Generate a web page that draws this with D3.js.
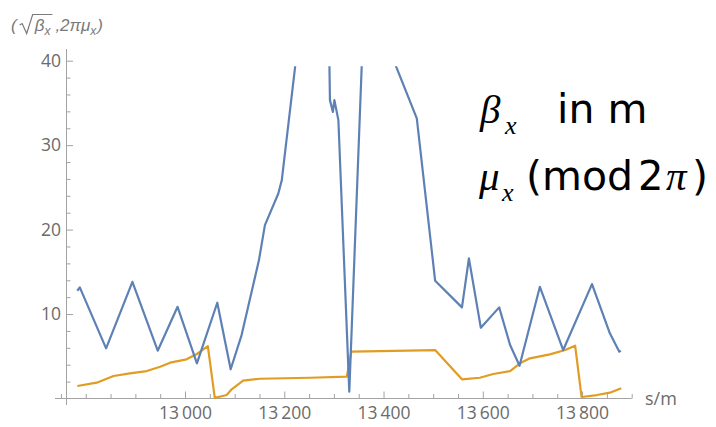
<!DOCTYPE html>
<html>
<head>
<meta charset="utf-8">
<script src="https://cdn.jsdelivr.net/npm/d3@7"></script>
<style>
  body { margin: 0; background: #fff; }
</style>
</head>
<body>
<div id="chart"></div>
<script>
// positions along the ring (s in m) and values
var sBeta = [12783, 12788, 12841, 12894, 12945, 12985, 13024, 13065, 13092, 13114,
             13149, 13161, 13188, 13195, 13222, 13240, 13262, 13284, 13291, 13292,
             13298, 13301, 13309, 13331, 13356, 13366, 13390, 13425, 13467, 13504,
             13558, 13572, 13596, 13633, 13655, 13674, 13715, 13762, 13820, 13856,
             13875, 13878];
var beta  = [12.76, 13.16, 5.94, 13.82, 5.66, 10.86, 4.17, 11.34, 3.46, 7.51,
             16.39, 20.53, 24.28, 25.86, 39.35, 48, 55, 52, 39.35, 35.33,
             33.94, 35.33, 32.96, 0.8, 39.35, 52, 46, 39.35, 33.16, 13.94,
             10.79, 16.59, 8.38, 10.79, 6.33, 3.88, 13.23, 5.74, 13.55, 7.72,
             5.54, 5.66];

var sMu = [12783, 12822, 12856, 12889, 12923, 12950, 12970, 13003, 13024, 13046,
           13060, 13084, 13094, 13117, 13151, 13252, 13326, 13335, 13393, 13504,
           13558, 13594, 13621, 13655, 13675, 13695, 13735, 13766, 13786, 13799,
           13830, 13856, 13879];
var mu  = [1.48, 1.87, 2.66, 2.98, 3.25, 3.76, 4.24, 4.64, 5.27, 6.21,
           0.08, 0.41, 1.09, 2.11, 2.34, 2.46, 2.58, 5.54, 5.62, 5.74,
           2.27, 2.46, 2.90, 3.25, 4.17, 4.76, 5.23, 5.74, 6.25, 0.18,
           0.41, 0.69, 1.21];

var xMajor = [13000, 13200, 13400, 13600, 13800];
var yMajor = [10, 20, 30, 40];

var W = 716, H = 427;
var svg = d3.select('#chart').append('svg')
    .attr('width', W).attr('height', H);

var x = d3.scaleLinear().domain([12760.2, 13900]).range([66, 631.7]);
var y = d3.scaleLinear().domain([0, 40]).range([398.5, 60.7]);

var axisCol = '#a3a3a3', labCol = '#6b6b6b';
var tickFont = '"Open Sans", sans-serif';

// clip the curves at the top of the plot range
svg.append('clipPath').attr('id', 'clip')
  .append('rect').attr('x', 0).attr('y', y(39.35)).attr('width', W).attr('height', H);

// x axis ticks
var xMinor = d3.range(12750, 13901, 50).filter(d => xMajor.indexOf(d) < 0);
svg.append('g')
    .attr('transform', 'translate(0,' + y(0) + ')')
    .call(d3.axisBottom(x).tickValues(xMinor).tickSize(-4.5).tickFormat(''))
    .call(g => g.select('.domain').remove())
    .call(g => g.selectAll('line').attr('stroke', axisCol));

svg.append('g')
    .attr('transform', 'translate(0,' + y(0) + ')')
    .call(d3.axisBottom(x).tickValues(xMajor).tickSize(-7).tickPadding(8)
      .tickFormat(d => String(d).slice(0, 2) + '\u2009' + String(d).slice(2)))
    .call(g => g.select('.domain').remove())
    .call(g => g.selectAll('line').attr('stroke', axisCol))
    .call(g => g.selectAll('text').attr('fill', labCol)
      .style('font-family', tickFont).style('font-size', '17.5px'));

// y axis ticks
var yMinor = d3.range(2, 41, 2).filter(d => yMajor.indexOf(d) < 0);
svg.append('g')
    .attr('transform', 'translate(66,0)')
    .call(d3.axisLeft(y).tickValues(yMinor).tickSize(-4.5).tickFormat(''))
    .call(g => g.select('.domain').remove())
    .call(g => g.selectAll('line').attr('stroke', axisCol));

svg.append('g')
    .attr('transform', 'translate(66,0)')
    .call(d3.axisLeft(y).tickValues(yMajor).tickSize(-7).tickPadding(5))
    .call(g => g.select('.domain').remove())
    .call(g => g.selectAll('line').attr('stroke', axisCol))
    .call(g => g.selectAll('text').attr('fill', labCol)
      .style('font-family', tickFont).style('font-size', '17.5px'));

// axis lines
svg.append('line')
    .attr('x1', 55).attr('x2', x(13900))
    .attr('y1', y(0)).attr('y2', y(0))
    .attr('stroke', axisCol);
svg.append('line')
    .attr('x1', 66.5).attr('x2', 66.5)
    .attr('y1', 49).attr('y2', 405)
    .attr('stroke', axisCol);

svg.append('text')
    .attr('x', 645).attr('y', 405)
    .attr('fill', labCol)
    .style('font-family', tickFont).style('font-size', '18px')
    .text('s/m');

// curves
var line = d3.line().x(d => x(d[0])).y(d => y(d[1]));
var plot = svg.append('g').attr('clip-path', 'url(#clip)');

plot.append('path')
    .datum(d3.zip(sMu, mu))
    .attr('d', line)
    .attr('fill', 'none')
    .attr('stroke', '#e19c24')
    .attr('stroke-width', 2.2)
    .attr('stroke-linejoin', 'round');

plot.append('path')
    .datum(d3.zip(sBeta, beta))
    .attr('d', line)
    .attr('fill', 'none')
    .attr('stroke', '#5e81b5')
    .attr('stroke-width', 2.2)
    .attr('stroke-linejoin', 'round');

// axis label at the top: ( sqrt(beta_x) ,2 pi mu_x )
var lab = svg.append('g')
    .attr('fill', '#7a7a7a')
    .style('font-family', '"Liberation Sans", sans-serif')
    .style('font-style', 'italic');
var cx = 11, base = 31;
function piece(t, size, dy) {
  var el = lab.append('text').attr('x', cx).attr('y', base + (dy || 0))
      .style('font-size', size + 'px').text(t);
  cx += el.node().getComputedTextLength();
}
piece('(', 17);
cx += 3;
var r0 = cx;
var rad = lab.append('path')
    .attr('fill', 'none').attr('stroke', '#7a7a7a').attr('stroke-width', 1.2);
cx += 15;
piece('\u03b2', 17);
piece('x', 12, 4);
cx += 2;
rad.attr('d', 'M' + r0 + ',' + (base - 6) + ' l2.5,-1.5 l4.5,10 l6,-19 H' + cx);
cx += 3;
piece(',2\u03c0\u03bc', 17);
piece('x', 12, 4);
cx += 1;
piece(')', 17);

// annotation on the right
var ann = svg.append('g').attr('fill', '#000');
var greek = '"Liberation Serif", serif';
var sans = '"DejaVu Sans", sans-serif';
ann.append('text').attr('x', 480).attr('y', 123)
    .style('font-family', greek).style('font-style', 'italic').style('font-size', '41px')
    .text('\u03b2');
ann.append('text').attr('x', 505).attr('y', 134)
    .style('font-family', greek).style('font-style', 'italic').style('font-size', '26px')
    .text('x');
ann.append('text').attr('x', 557).attr('y', 123)
    .style('font-family', sans).style('font-size', '41px')
    .text('in m');
ann.append('text').attr('x', 479).attr('y', 190)
    .style('font-family', greek).style('font-style', 'italic').style('font-size', '41px')
    .text('\u03bc');
ann.append('text').attr('x', 502).attr('y', 201)
    .style('font-family', greek).style('font-style', 'italic').style('font-size', '26px')
    .text('x');
ann.append('text').attr('x', 526).attr('y', 190)
    .style('font-family', sans).style('font-size', '41px')
    .text('(mod');
ann.append('text').attr('x', 638).attr('y', 190)
    .style('font-family', sans).style('font-size', '40px')
    .text('2');
ann.append('text').attr('x', 666).attr('y', 190)
    .style('font-family', greek).style('font-style', 'italic').style('font-size', '41px')
    .text('\u03c0');
ann.append('text').attr('x', 692).attr('y', 190)
    .style('font-family', sans).style('font-size', '41px')
    .text(')');
</script>
</body>
</html>
